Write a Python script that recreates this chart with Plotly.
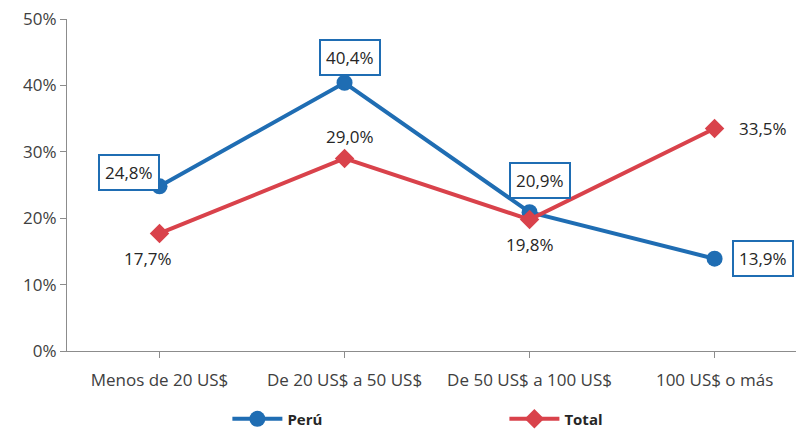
import plotly.graph_objects as go

# Data
categorias = ['Menos de 20 US$', 'De 20 US$ a 50 US$', 'De 50 US$ a 100 US$', '100 US$ o más']
peru = [24.8, 40.4, 20.9, 13.9]
total = [17.7, 29.0, 19.8, 33.5]
peru_txt = ['24,8%', '40,4%', '20,9%', '13,9%']
total_txt = ['17,7%', '29,0%', '19,8%', '33,5%']

azul = '#1f6db3'
rojo = '#d9424b'
gris = '#404040'

x = list(range(len(categorias)))

fig = go.Figure()
fig.add_trace(go.Scatter(
    x=x, y=peru, name='Perú', mode='lines+markers', legend='legend',
    line=dict(color=azul, width=4),
    marker=dict(symbol='circle', size=16, color=azul)
))
fig.add_trace(go.Scatter(
    x=x, y=total, name='Total', mode='lines+markers', legend='legend2',
    line=dict(color=rojo, width=4),
    marker=dict(symbol='diamond', size=15, color=rojo)
))

# label offsets (pixels)
peru_shift = [(-31, 14), (5, 25), (10, 32), (48, 0)]
total_shift = [(-12, -25), (5, 22), (0, -25), (48, 0)]

for i in x:
    fig.add_annotation(
        x=i, y=peru[i], text=peru_txt[i], showarrow=False,
        xshift=peru_shift[i][0], yshift=peru_shift[i][1],
        font=dict(size=17, color='#262626', family='Open Sans'),
        bgcolor='white', bordercolor=azul, borderwidth=2, borderpad=5
    )
    fig.add_annotation(
        x=i, y=total[i], text=total_txt[i], showarrow=False,
        xshift=total_shift[i][0], yshift=total_shift[i][1],
        font=dict(size=17, color='#262626', family='Open Sans')
    )

leg_font = dict(size=15, color='#262626', family='Open Sans', weight='bold')

fig.update_layout(
    width=796, height=431,
    margin=dict(l=67, r=0, t=19, b=80, autoexpand=False),
    plot_bgcolor='white', paper_bgcolor='white',
    font=dict(family='Open Sans', color=gris, size=17),
    showlegend=True,
    legend=dict(orientation='h', x=0.22, y=-0.205, xanchor='left', yanchor='middle',
                itemwidth=50, font=leg_font, bgcolor='rgba(0,0,0,0)'),
    legend2=dict(orientation='h', x=0.6, y=-0.205, xanchor='left', yanchor='middle',
                 itemwidth=50, font=leg_font, bgcolor='rgba(0,0,0,0)'),
    xaxis=dict(
        range=[-0.5, 3.44], tickmode='array', tickvals=x, ticktext=categorias,
        showline=True, linecolor='#8c8c8c', linewidth=1,
        showgrid=False, zeroline=False, automargin=False,
        ticks='outside', ticklen=6, tickcolor='#8c8c8c', tickson='boundaries',
        ticklabelstandoff=8,
        tickfont=dict(size=17, color=gris)
    ),
    yaxis=dict(
        range=[0, 50], tickvals=[0, 10, 20, 30, 40, 50],
        ticktext=['0%', '10%', '20%', '30%', '40%', '50%'],
        showline=True, linecolor='#8c8c8c', linewidth=1,
        showgrid=False, zeroline=False, automargin=False,
        ticks='outside', ticklen=6, tickcolor='#8c8c8c',
        tickfont=dict(size=17, color=gris)
    )
)

# drop the browser's default page margin so the figure sits at 0,0
fig.write_html('out.html', config={'displayModeBar': False},
               post_script="document.body.style.margin='0';")
